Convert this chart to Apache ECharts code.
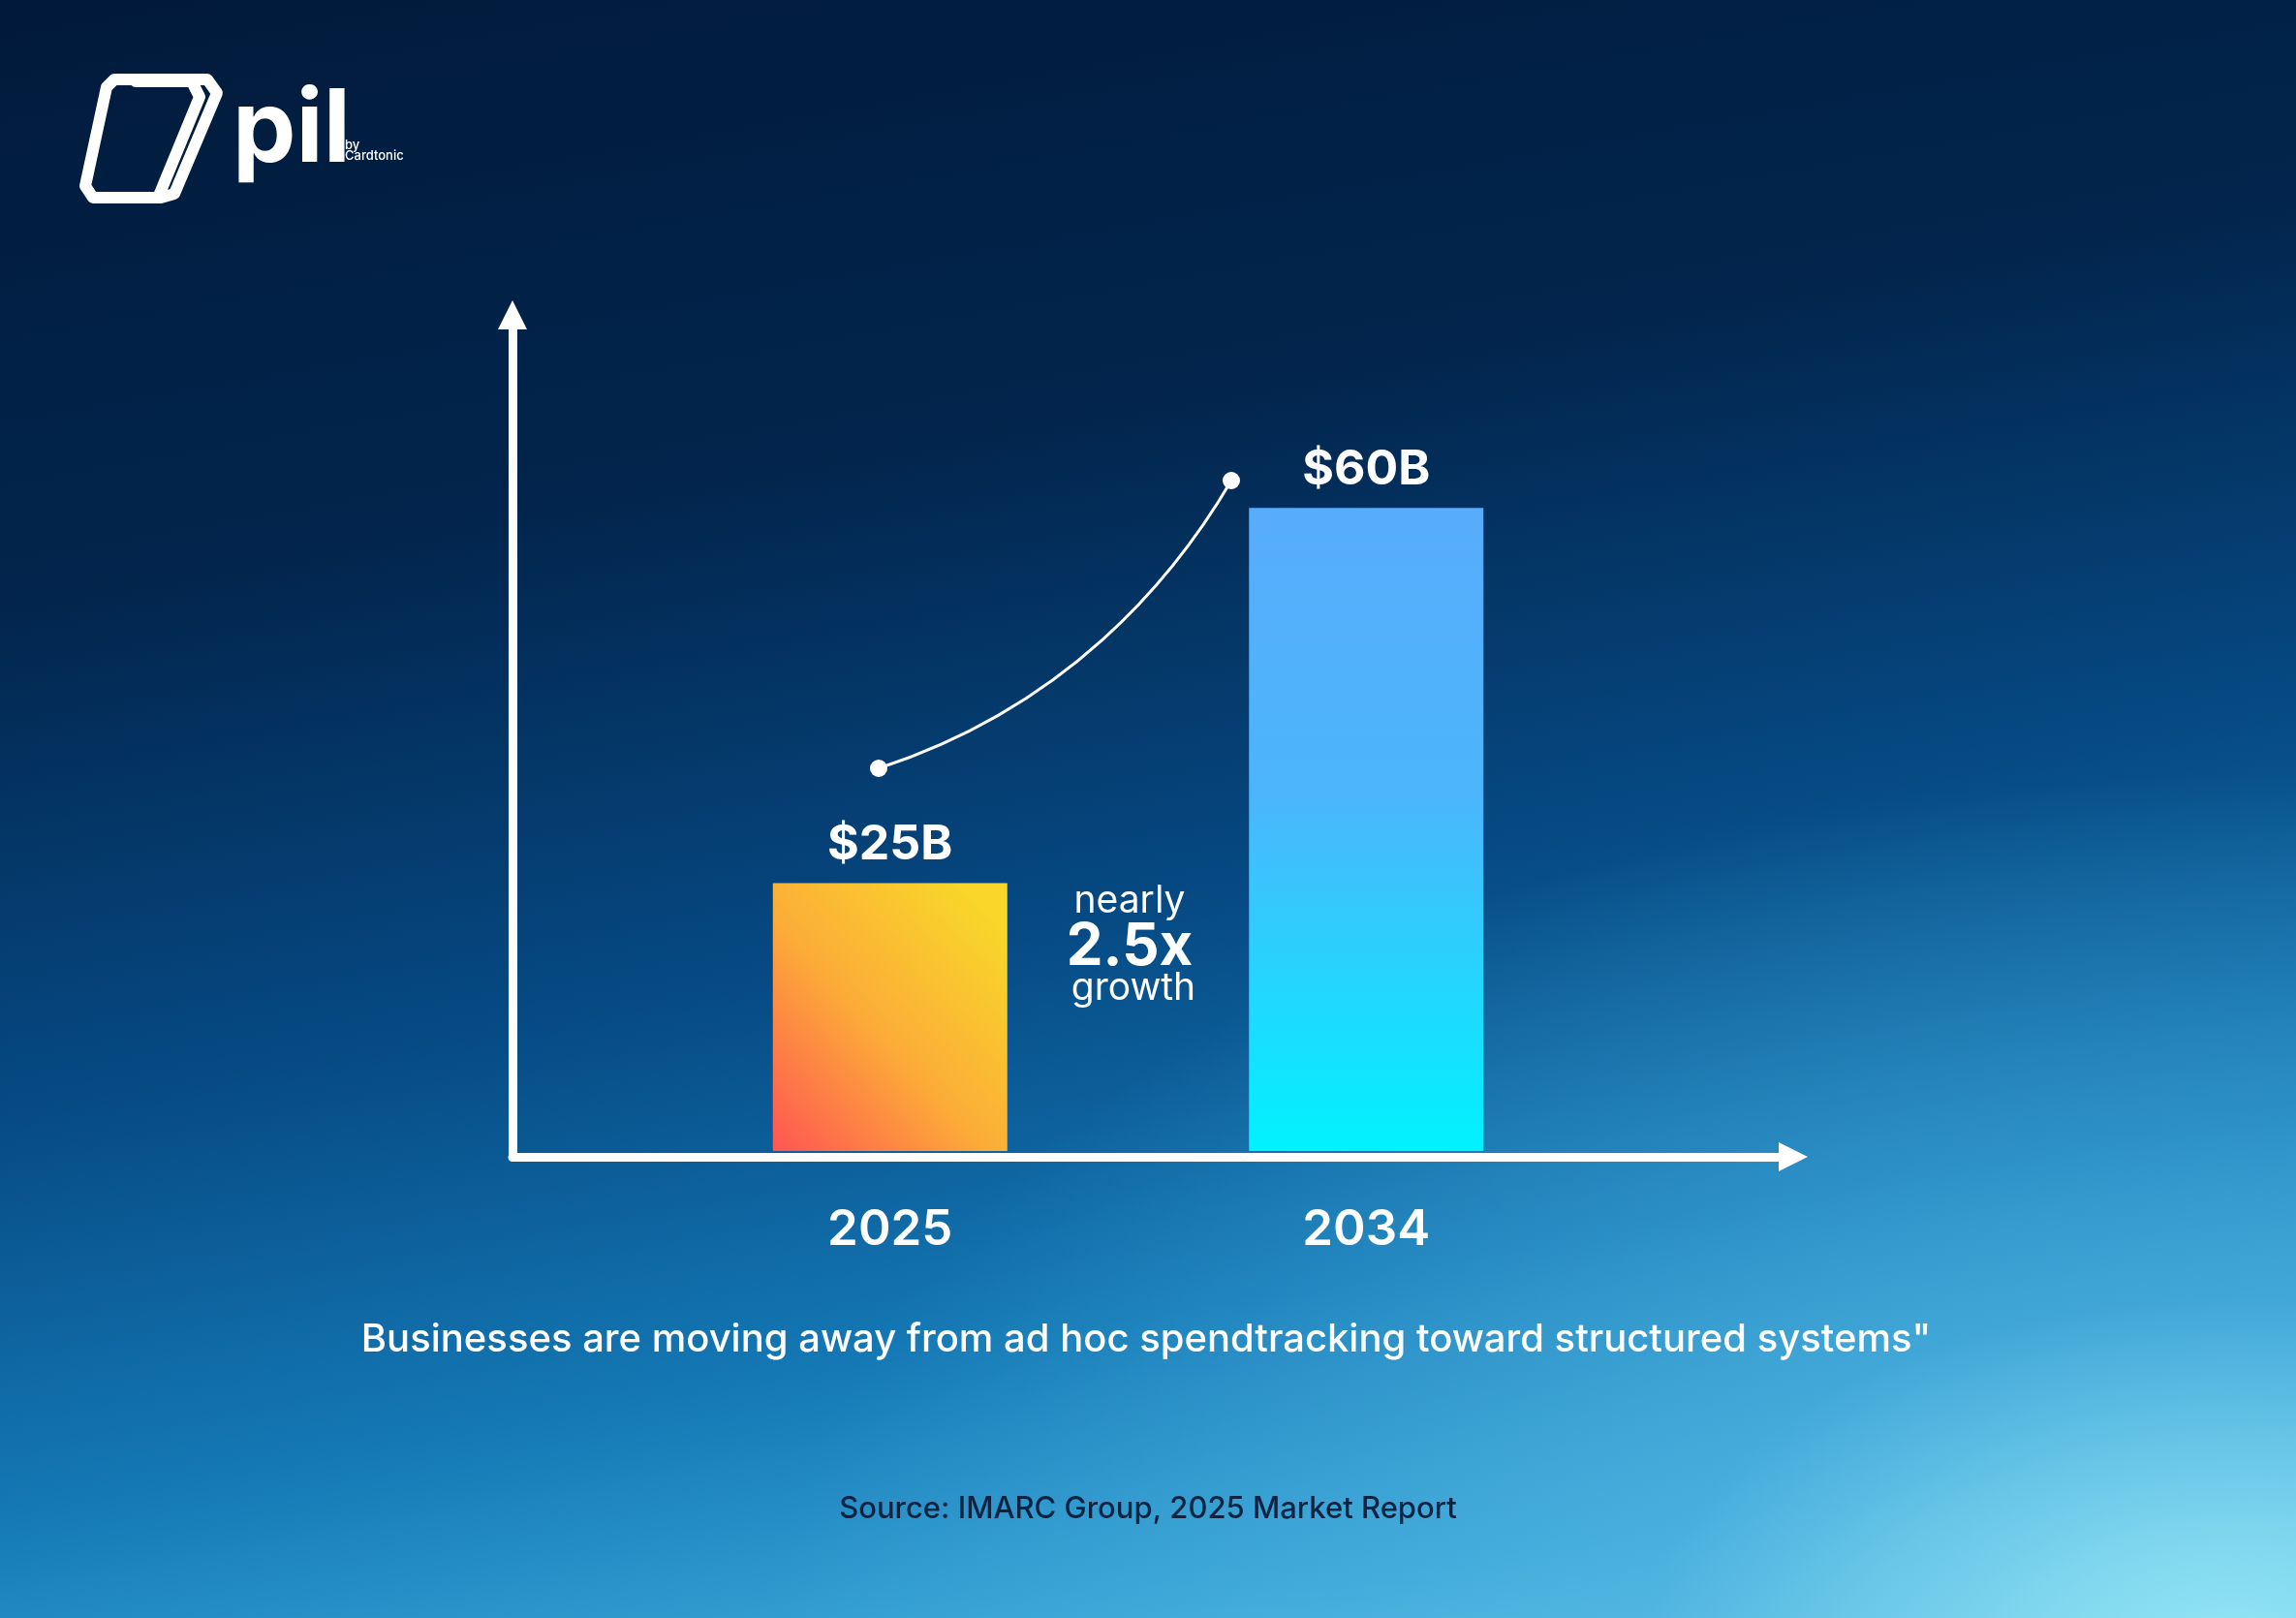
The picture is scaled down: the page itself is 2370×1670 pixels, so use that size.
<!DOCTYPE html>
<html><head><meta charset="utf-8">
<script src="https://cdn.jsdelivr.net/npm/echarts@6/dist/echarts.min.js"></script>
<style>
html,body{margin:0;padding:0;width:2370px;height:1670px;overflow:hidden;}
body{background:
 radial-gradient(ellipse 1500px 900px at 2300px 1700px, rgba(150,230,245,0.95) 0%, rgba(80,180,225,0.6) 40%, rgba(20,110,170,0) 100%),
 linear-gradient(170deg, #011a3b 0%, #02254d 30%, #064a84 55%, #1479b5 75%, #3aa6d8 90%, #6fcfeb 100%);}
#c{width:2370px;height:1670px;}
</style></head><body><div id="c"></div>
<script>
const categories = ['2025', '2034'];
const values = [25, 60];
const valueLabels = ['$25B', '$60B'];
const caption = 'Businesses are moving away from ad hoc spendtracking toward structured systems"';
const source = 'Source: IMARC Group, 2025 Market Report';

const chart = echarts.init(document.getElementById('c'), null, {renderer: 'canvas'});
const F = 'Inter, "Noto Sans", sans-serif';
const barColors = [
  {type: 'linear', x: 0, y: 1, x2: 1, y2: 0.2, colorStops: [
    {offset: 0, color: '#ff5553'}, {offset: 0.5, color: '#fcac38'}, {offset: 1, color: '#f8d62a'}]},
  {type: 'linear', x: 0, y: 0, x2: 0, y2: 1, colorStops: [
    {offset: 0, color: '#58acfb'}, {offset: 0.45, color: '#4bb6fb'}, {offset: 1, color: '#00f2ff'}]}
];
chart.setOption({
  backgroundColor: 'transparent',
  animation: false,
  grid: [
    {left: 673, right: 2370 - 1656, top: 325, bottom: 1670 - 1188},
    {left: 529, right: 2370 - 1851, top: 325, bottom: 1670 - 1194}
  ],
  xAxis: [
    {type: 'category', gridIndex: 0, data: categories,
     axisLine: {show: false}, axisTick: {show: false},
     axisLabel: {color: '#fff', fontSize: 51, fontWeight: 600, fontFamily: F, margin: 56}},
    {type: 'value', gridIndex: 1, min: 0, max: 1, splitLine: {show: false},
     axisLabel: {show: false}, axisTick: {show: false},
     axisLine: {show: true, symbol: ['none', 'triangle'], symbolSize: [30, 30],
       lineStyle: {color: '#fff', width: 9}}}
  ],
  yAxis: [
    {type: 'value', gridIndex: 0, min: 0, max: 78, show: false},
    {type: 'value', gridIndex: 1, min: 0, max: 1, splitLine: {show: false},
     axisLabel: {show: false}, axisTick: {show: false},
     axisLine: {show: true, symbol: ['none', 'triangle'], symbolSize: [30, 30],
       lineStyle: {color: '#fff', width: 9}}}
  ],
  series: [{
    type: 'bar', xAxisIndex: 0, yAxisIndex: 0, barWidth: 242,
    data: values.map((v, i) => ({value: v, itemStyle: {color: barColors[i]},
      label: {formatter: valueLabels[i]}})),
    label: {show: true, position: 'top', distance: 14, color: '#fff',
      fontSize: 50, fontWeight: 700, fontFamily: F}
  }],
  graphic: [
    {type: 'bezierCurve', shape: {x1: 907, y1: 793, cpx1: 1100, cpy1: 730, cpx2: 1210, cpy2: 600, x2: 1271, y2: 496},
     style: {stroke: '#fff', lineWidth: 3, fill: null}},
    {type: 'circle', shape: {cx: 907, cy: 793, r: 9}, style: {fill: '#fff'}},
    {type: 'circle', shape: {cx: 1271, cy: 496, r: 9}, style: {fill: '#fff'}},
    {type: 'text', x: 1166, y: 930, style: {text: 'nearly', fill: '#fff', font: '400 39px ' + F, align: 'center', verticalAlign: 'middle'}},
    {type: 'text', x: 1166, y: 978, style: {text: '2.5x', fill: '#fff', font: '700 60px ' + F, align: 'center', verticalAlign: 'middle'}},
    {type: 'text', x: 1170, y: 1020, style: {text: 'growth', fill: '#fff', font: '400 39px ' + F, align: 'center', verticalAlign: 'middle'}},
    {type: 'text', x: 1183, y: 1383, style: {text: caption, fill: '#fff', font: '500 40px ' + F, align: 'center', verticalAlign: 'middle'}},
    {type: 'text', x: 1185, y: 1558, style: {text: source, fill: '#0d2342', font: '500 31px ' + F, align: 'center', verticalAlign: 'middle'}},
    {type: 'polygon', shape: {points: [[118, 82], [214, 82], [224, 96], [180, 200], [166, 204], [96, 204], [88, 192], [110, 90]]},
     style: {stroke: '#fff', lineWidth: 12, fill: null, lineJoin: 'round'}},
    {type: 'polyline', shape: {points: [[140, 84], [198, 84], [206, 100], [164, 202]]},
     style: {stroke: '#fff', lineWidth: 12, fill: null, lineJoin: 'round', lineCap: 'round'}},
    {type: 'text', x: 240, y: 188, style: {text: 'pil', fill: '#fff', font: '700 104px ' + F, verticalAlign: 'bottom'}},
    {type: 'text', x: 356, y: 150, style: {text: 'by', fill: '#fff', font: '500 13px ' + F, verticalAlign: 'middle'}},
    {type: 'text', x: 356, y: 161, style: {text: 'Cardtonic', fill: '#fff', font: '500 13px ' + F, verticalAlign: 'middle'}}
  ]
});
</script></body></html>
